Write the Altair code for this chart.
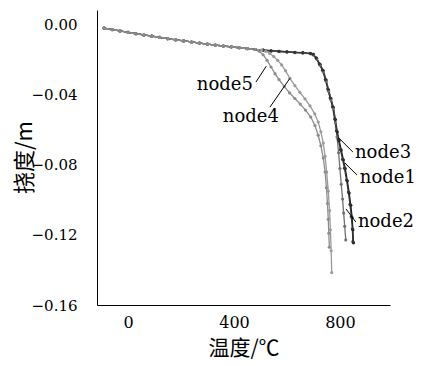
import altair as alt
import pandas as pd

# shared early part (all nodes)
base_t = [-90, -60, -30, 0, 30, 60, 90, 120, 150, 180, 210, 240, 270, 300, 330, 360, 390, 420, 450, 480]
base_y = [-0.0018, -0.0026, -0.0034, -0.0042, -0.0050, -0.0057, -0.0064, -0.0071, -0.0078, -0.0085,
          -0.0091, -0.0097, -0.0103, -0.0109, -0.0115, -0.0120, -0.0125, -0.0130, -0.0135, -0.0140]

n1_t = [510, 540, 570, 600, 630, 660, 690, 700, 712, 725, 737, 748, 757, 766, 775, 783, 790, 797, 805,
        813, 820, 828, 835, 841, 846, 849, 851]
n1_y = [-0.0144, -0.0148, -0.0151, -0.0154, -0.0157, -0.0159, -0.0163, -0.0168, -0.0190, -0.0225, -0.0260,
        -0.0315, -0.0370, -0.0420, -0.0470, -0.0540, -0.0610, -0.0660, -0.0715, -0.0770, -0.0820, -0.0890,
        -0.0960, -0.1030, -0.1100, -0.1170, -0.1245]

n3_t = [510, 540, 570, 600, 630, 660, 688, 698, 710, 722, 734, 745, 754, 763, 772, 780, 787, 794, 802,
        810, 817, 825, 832, 838, 843, 847, 849]
n3_y = [-0.0143, -0.0147, -0.0150, -0.0153, -0.0156, -0.0158, -0.0162, -0.0167, -0.0188, -0.0222, -0.0258,
        -0.0312, -0.0366, -0.0417, -0.0467, -0.0537, -0.0605, -0.0655, -0.0712, -0.0768, -0.0818, -0.0886,
        -0.0955, -0.1025, -0.1095, -0.1165, -0.1238]

n2_t = [510, 540, 570, 600, 630, 660, 690, 700, 712, 725, 737, 748, 757, 766, 775, 783, 789, 795, 800,
        805, 810, 814, 818, 822]
n2_y = [-0.0145, -0.0149, -0.0152, -0.0155, -0.0158, -0.0160, -0.0165, -0.0172, -0.0195, -0.0230, -0.0268,
        -0.0322, -0.0378, -0.0428, -0.0478, -0.0560, -0.0640, -0.0730, -0.0820, -0.0910, -0.0995, -0.1075,
        -0.1150, -0.1228]

n4_t = [505, 520, 535, 550, 565, 580, 595, 611, 630, 649, 668, 687, 705, 718, 728, 737, 744, 750, 756,
        761, 764, 767, 769]
n4_y = [-0.0143, -0.0150, -0.0163, -0.0180, -0.0202, -0.0228, -0.0262, -0.0305, -0.0346, -0.0385, -0.0422,
        -0.0462, -0.0508, -0.0555, -0.0610, -0.0675, -0.0750, -0.0840, -0.0950, -0.1060, -0.1170, -0.1290,
        -0.1415]

n5_t = [495, 510, 525, 540, 555, 570, 590, 610, 630, 650, 670, 690, 706, 718, 728, 737, 744, 749, 753,
        756, 758, 760]
n5_y = [-0.0150, -0.0170, -0.0202, -0.0240, -0.0278, -0.0312, -0.0352, -0.0388, -0.0420, -0.0452, -0.0486,
        -0.0526, -0.0575, -0.0630, -0.0690, -0.0760, -0.0840, -0.0930, -0.1020, -0.1110, -0.1190, -0.1270]

nodes = ["node1", "node2", "node3", "node4", "node5"]
colors = ["#1a1a1a", "#707070", "#333333", "#9a9a9a", "#8c8c8c"]
series = {"node1": (n1_t, n1_y), "node2": (n2_t, n2_y), "node3": (n3_t, n3_y),
          "node4": (n4_t, n4_y), "node5": (n5_t, n5_y)}

rows = []
for i, n in enumerate(nodes):
    t_ext, y_ext = series[n]
    for k, (t, y) in enumerate(zip(base_t + t_ext, base_y + y_ext)):
        rows.append({"node": n, "T": t, "d": y, "order": k})
df = pd.DataFrame(rows)

# annotation labels (data coords) and leader lines
lab_node = ["node5", "node4", "node3", "node1", "node2"]
lab_x = [260, 358, 857, 875, 868]
lab_y = [-0.0343, -0.0526, -0.0731, -0.0874, -0.1126]
lead_x1 = [483, 536, 792, 819, 823]
lead_y1 = [-0.0326, -0.0469, -0.0640, -0.0789, -0.1051]
lead_x2 = [522, 611, 849, 864, 860]
lead_y2 = [-0.0235, -0.0305, -0.0726, -0.0857, -0.1126]
labels = pd.DataFrame({"node": lab_node, "x": lab_x, "y": lab_y})
leads = pd.DataFrame({"x1": lead_x1, "y1": lead_y1, "x2": lead_x2, "y2": lead_y2})

serif = "DejaVu Serif"
cjk = "Noto Sans CJK SC"
xs = alt.Scale(domain=[-117, 989], nice=False, zero=False)
ys = alt.Scale(domain=[-0.16, 0.00857], nice=False, zero=False)

color = alt.Color("node:N", scale=alt.Scale(domain=nodes, range=colors), legend=None)

xaxis = alt.Axis(values=[0, 400, 800], title="温度/℃", grid=False, ticks=False, tickSize=0,
                 labelFontSize=16, labelPadding=9, titleFontSize=21, titlePadding=7,
                 labelFont=serif, titleFont=cjk,
                 domainColor="#000", labelColor="#000", titleColor="#000", titleFontWeight="normal")
yaxis = alt.Axis(values=[0, -0.04, -0.08, -0.12, -0.16], format=".2f", title="挠度/m", grid=False,
                 ticks=False, tickSize=0, labelFontSize=15, labelPadding=20, titleFontSize=22,
                 labelFont=serif, titleFont=cjk,
                 titleX=-73, titleY=147, titleAngle=270, titleAlign="center", titleBaseline="middle",
                 domainColor="#000", labelColor="#000", titleColor="#000",
                 titleFontWeight="normal")

lines = alt.Chart(df).mark_line(strokeWidth=1.3).encode(
    x=alt.X("T:Q", scale=xs, axis=xaxis),
    y=alt.Y("d:Q", scale=ys, axis=yaxis),
    color=color, detail="node:N", order="order:Q")
pts = alt.Chart(df).mark_point(filled=True, size=10, opacity=1).encode(
    x=alt.X("T:Q", scale=xs), y=alt.Y("d:Q", scale=ys), color=color)
rules = alt.Chart(leads).mark_rule(color="#000", strokeWidth=1).encode(
    x=alt.X("x1:Q", scale=xs), y=alt.Y("y1:Q", scale=ys), x2="x2:Q", y2="y2:Q")
texts = alt.Chart(labels).mark_text(align="left", baseline="middle", fontSize=18, font=serif,
                                    color="#000").encode(
    x=alt.X("x:Q", scale=xs), y=alt.Y("y:Q", scale=ys), text="node:N")

chart = (lines + pts + rules + texts).properties(
    width=293, height=295,
    background="white",
    autosize=alt.AutoSizeParams(type="none"),
    padding={"left": 89, "top": 2, "right": 30, "bottom": 60},
).configure_view(stroke=None)

chart.save("out.html", embed_options={"renderer": "svg", "actions": False})
